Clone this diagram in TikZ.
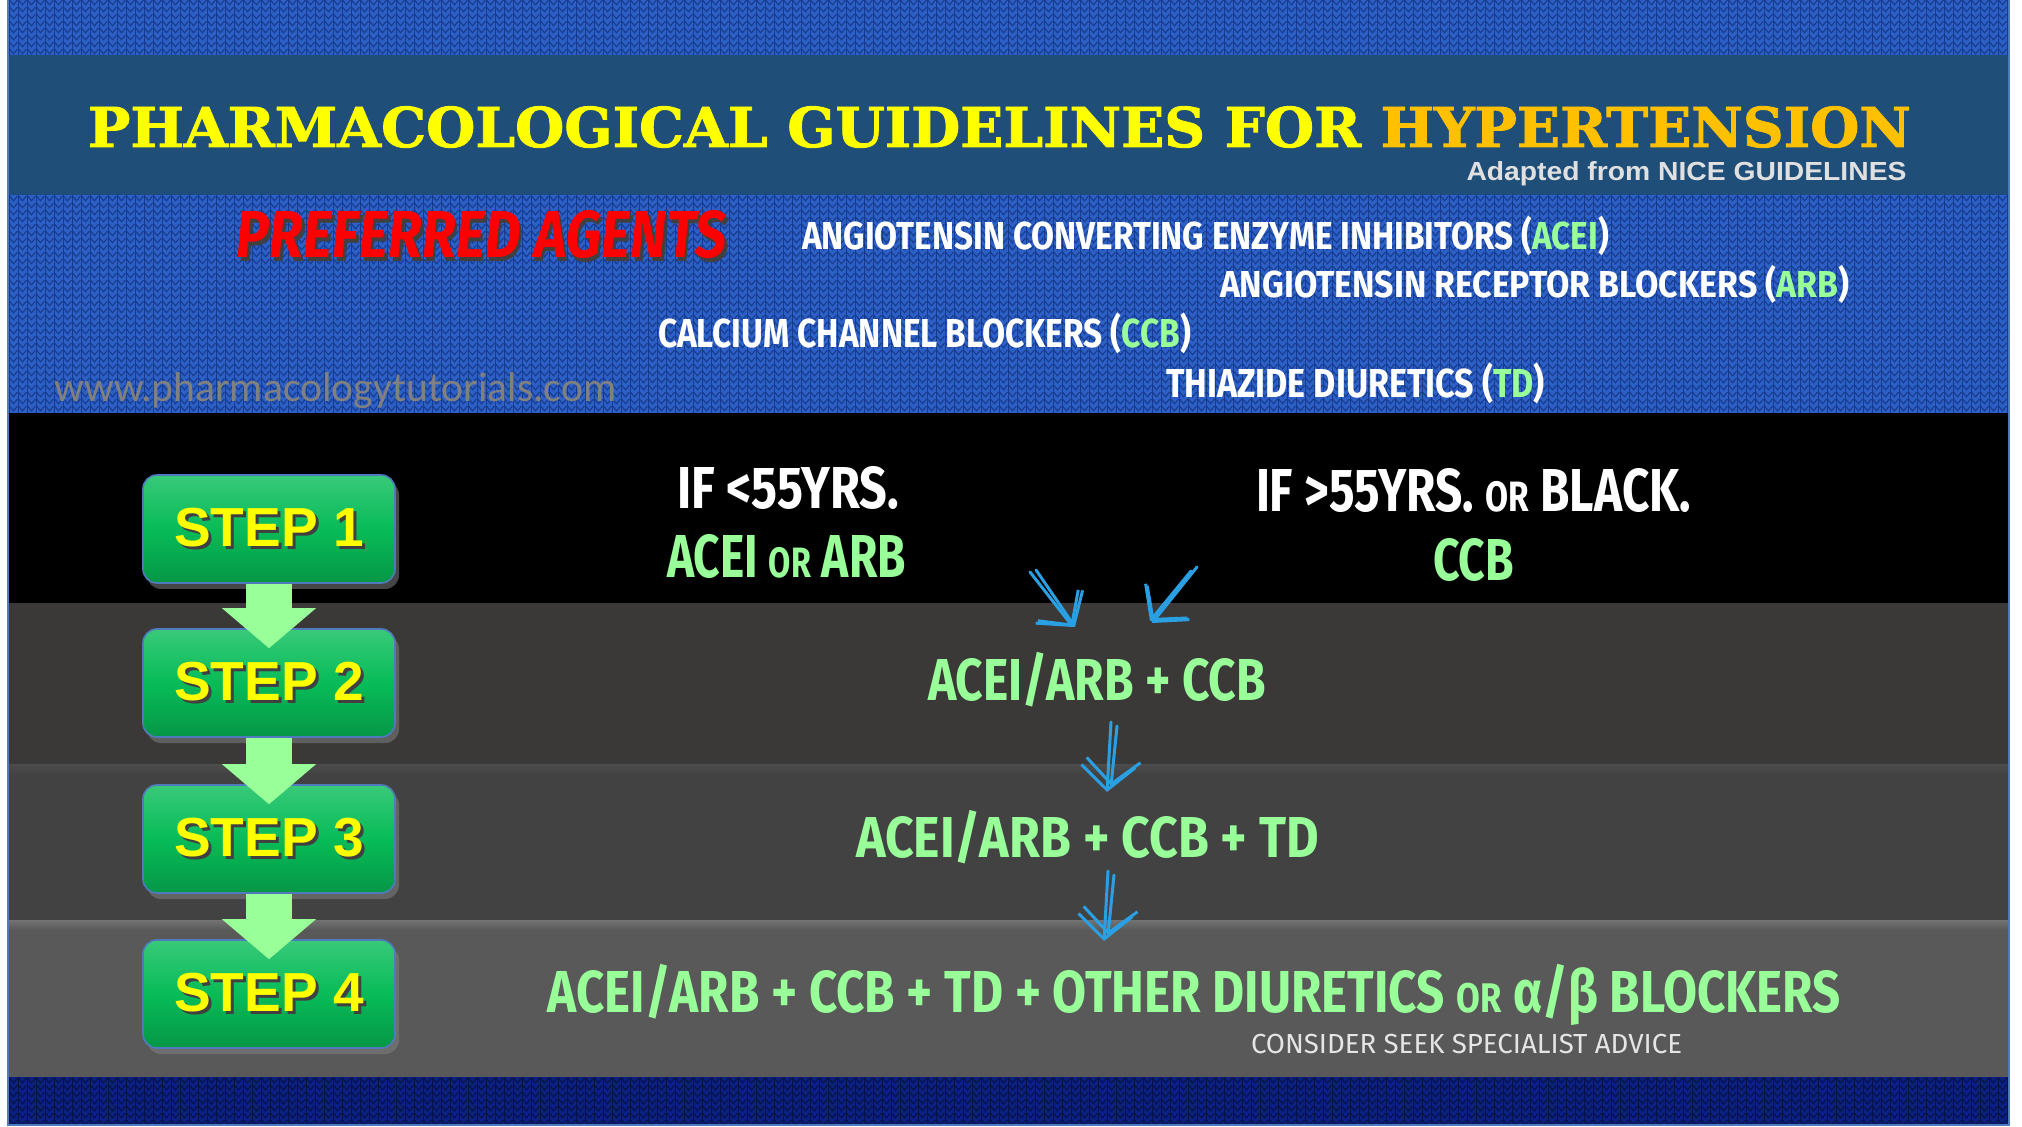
\documentclass[tikz,border=0pt]{standalone}
\usepackage{fontspec}
\usepackage{graphicx}
\usetikzlibrary{arrows.meta,shadows,patterns}
\setmainfont{Liberation Sans}
\newfontfamily\titlefont[FakeBold=1.6]{DejaVu Serif}
\newfontfamily\handfont{Fira Sans}
\newfontfamily\handslant[FakeSlant=0.12]{Fira Sans}
\newfontfamily\webfont{Carlito}

\definecolor{knitblue}{HTML}{2D60C6}
\definecolor{knitdark}{HTML}{163A8C}
\definecolor{bandblue}{HTML}{1F4E79}
\definecolor{navy}{HTML}{0B2080}
\definecolor{navydark}{HTML}{061248}
\definecolor{edgeblue}{HTML}{4F7BBE}
\definecolor{rowtwo}{HTML}{3A3938}
\definecolor{rowthree}{HTML}{424242}
\definecolor{rowfour}{HTML}{595959}
\definecolor{pale}{HTML}{99FF99}
\definecolor{stepgreen}{HTML}{07BC58}
\definecolor{chalkblue}{HTML}{2A9FE2}
\definecolor{ty}{HTML}{FFFF00}
\definecolor{to}{HTML}{FFC000}
\definecolor{prefred}{HTML}{FF0000}

% knitted texture of the blue bands
\pgfdeclarepatternformonly{knit}{\pgfqpoint{-0.5pt}{-0.5pt}}{\pgfqpoint{5pt}{4pt}}{\pgfqpoint{4.5pt}{3.5pt}}{
  \pgfsetlinewidth{0.55pt}
  \pgfpathmoveto{\pgfqpoint{0.3pt}{3.4pt}}
  \pgfpathlineto{\pgfqpoint{2.25pt}{1.1pt}}
  \pgfpathlineto{\pgfqpoint{4.2pt}{3.4pt}}
  \pgfusepath{stroke}
  \pgfsetlinewidth{0.35pt}
  \pgfpathmoveto{\pgfqpoint{0pt}{0pt}}
  \pgfpathlineto{\pgfqpoint{0pt}{3.5pt}}
  \pgfusepath{stroke}
}

% text squeezed to a given width and cap height
\newcommand\fitbox[3]{\resizebox{#1}{#2}{\smash{#3}\vphantom{X}}}
\newcommand\shad[2]{\rlap{\kern1.5pt\raisebox{-1.5pt}{\color{black!75}#2}}{\color{#1}#2}}
\newcommand\smallor{{\fontsize{14}{14}\selectfont OR}}

\tikzset{
  stepbox/.style={rounded corners=7pt, minimum width=126pt, minimum height=54pt,
    draw=edgeblue, line width=0.8pt,
    top color=stepgreen!80!white, bottom color=stepgreen!80!black, middle color=stepgreen,
    drop shadow={shadow xshift=2pt, shadow yshift=-3pt, opacity=0.55},
    font=\bfseries\fontsize{27.5}{27.5}\selectfont, inner sep=0pt},
  stepflow/.style={draw=pale, line width=23pt,
    -{Triangle[width=47pt,length=20pt,line width=0pt]}},
  chalk/.style={draw=chalkblue, line width=1.5pt, line cap=round,
    -{Straight Barb[length=12pt,width=27pt,line width=1.5pt]}},
  txt/.style={inner sep=0pt, font=\handfont\bfseries\fontsize{20}{20}\selectfont},
}

\begin{document}
\begin{tikzpicture}[x=0.5pt, y=-0.5pt]

  \useasboundingbox (0,0) rectangle (2022,1127);
  \fill[white] (0,0) rectangle (2022,1127);

  % bands
  \fill[knitblue] (8,0) rectangle (2009,55);
  \fill[pattern=knit, pattern color=knitdark] (8,0) rectangle (2009,55);
  \fill[bandblue] (8,55) rectangle (2009,195);
  \fill[knitblue] (8,195) rectangle (2009,413);
  \fill[pattern=knit, pattern color=knitdark] (8,195) rectangle (2009,413);
  \foreach \ya/\yb/\c in {413/603/black, 603/764/rowtwo, 764/920/rowthree, 920/1077/rowfour}
    \fill[\c] (8,\ya) rectangle (2009,\yb);
  \shade[top color=black!70, bottom color=rowthree] (8,764) rectangle (2009,774);
  \shade[top color=black!55, bottom color=rowfour] (8,920) rectangle (2009,930);
  \fill[navy] (8,1077) rectangle (2009,1125);
  \fill[pattern=knit, pattern color=navydark] (8,1077) rectangle (2009,1125);
  \draw[edgeblue, line width=0.6pt] (8,0) -- (8,1125) -- (2009,1125) -- (2009,0);

  % heading
  \node[inner sep=0pt, font=\titlefont\bfseries\fontsize{27}{27}\selectfont] (title) at (999.5,127)
    {\fitbox{911.5pt}{20pt}{{\color{ty}PHARMACOLOGICAL GUIDELINES FOR }{\color{to}HYPERTENSION}}};
  \node[inner sep=0pt, text=white!88!black, font=\bfseries\fontsize{12.5}{12.5}\selectfont] (source) at (1686.5,172)
    {\fitbox{220pt}{9pt}{Adapted from NICE GUIDELINES}};

  % preferred agents
  \node[inner sep=0pt, font=\handslant\bfseries\fontsize{33}{33}\selectfont] (preferred) at (480,235)
    {\fitbox{245pt}{23pt}{\shad{prefred}{PREFERRED AGENTS}}};
  \node[txt, text=white] (acei) at (1205.5,236)
    {\fitbox{403.5pt}{13.5pt}{ANGIOTENSIN CONVERTING ENZYME INHIBITORS ({\color{pale}ACEI})}};
  \node[txt, text=white] (arb) at (1534.5,285)
    {\fitbox{314.5pt}{13pt}{ANGIOTENSIN RECEPTOR BLOCKERS ({\color{pale}ARB})}};
  \node[txt, text=white] (ccb) at (924.5,334)
    {\fitbox{266.5pt}{14pt}{CALCIUM CHANNEL BLOCKERS ({\color{pale}CCB})}};
  \node[txt, text=white] (td) at (1355.5,384)
    {\fitbox{189.5pt}{14pt}{THIAZIDE DIURETICS ({\color{pale}TD})}};
  \node[inner sep=0pt, anchor=base west, text=black!50, font=\webfont\fontsize{20.8}{20.8}\selectfont] (web) at (54,402)
    {www.pharmacologytutorials.com};

  % steps
  \foreach \i/\y in {1/529, 2/683, 3/839, 4/994}
    \node[stepbox] (step\i) at (269,\y) {\shad{ty}{STEP \i}};
  \foreach \i/\j in {1/2, 2/3, 3/4}
    \draw[stepflow] (step\i.south) -- ([yshift=-10pt]step\j.north);

  % treatments
  \node[txt, text=white] (young) at (788,488) {\fitbox{111pt}{20.5pt}{IF <55YRS.}};
  \node[txt, text=pale] (youngrx) at (786.5,557) {\fitbox{119.5pt}{21pt}{ACEI \smallor{} ARB}};
  \node[txt, text=white] (old) at (1473.5,491) {\fitbox{217.5pt}{21pt}{IF >55YRS. \smallor{} BLACK.}};
  \node[txt, text=pale] (oldrx) at (1473.5,560) {\fitbox{40.5pt}{20.5pt}{CCB}};
  \node[txt, text=pale] (second) at (1097,680) {\fitbox{169pt}{20.5pt}{ACEI/ARB + CCB}};
  \node[txt, text=pale] (third) at (1087.5,837) {\fitbox{231.5pt}{20pt}{ACEI/ARB + CCB + TD}};
  \node[txt, text=pale] (fourth) at (1194.5,992)
    {\fitbox{646.5pt}{20.5pt}{ACEI/ARB + CCB + TD + OTHER DIURETICS \smallor{} α/β BLOCKERS}};
  \node[txt, text=white!90!black, font=\handfont\fontsize{20}{20}\selectfont] (advice) at (1466.5,1044)
    {\fitbox{215.5pt}{9.5pt}{CONSIDER SEEK SPECIALIST ADVICE}};

  % chalk arrows
  \coordinate (fromyoung) at (1030,572);
  \coordinate (toyoung) at (1073,627);
  \coordinate (fromold) at (1197,567);
  \coordinate (toold) at (1152,623);
  \coordinate (fromsecond) at (1111,722);
  \coordinate (tosecond) at (1107,792);
  \coordinate (fromthird) at (1108,871);
  \coordinate (tothird) at (1104,941);
  \draw[chalk] (fromyoung) -- (toyoung);
  \draw[chalk] ([xshift=3pt,yshift=1pt]fromyoung) -- ([xshift=1pt]toyoung);
  \draw[chalk] (fromold) -- (toold);
  \draw[chalk] ([xshift=-3pt,yshift=-2pt]fromold) -- ([xshift=-1pt,yshift=1pt]toold);
  \draw[chalk] (fromsecond) -- (tosecond);
  \draw[chalk] ([xshift=3pt,yshift=-2pt]fromsecond) -- ([xshift=2pt,yshift=3pt]tosecond);
  \draw[chalk] (fromthird) -- (tothird);
  \draw[chalk] ([xshift=3pt,yshift=-2pt]fromthird) -- ([xshift=2pt,yshift=3pt]tothird);

\end{tikzpicture}
\end{document}
